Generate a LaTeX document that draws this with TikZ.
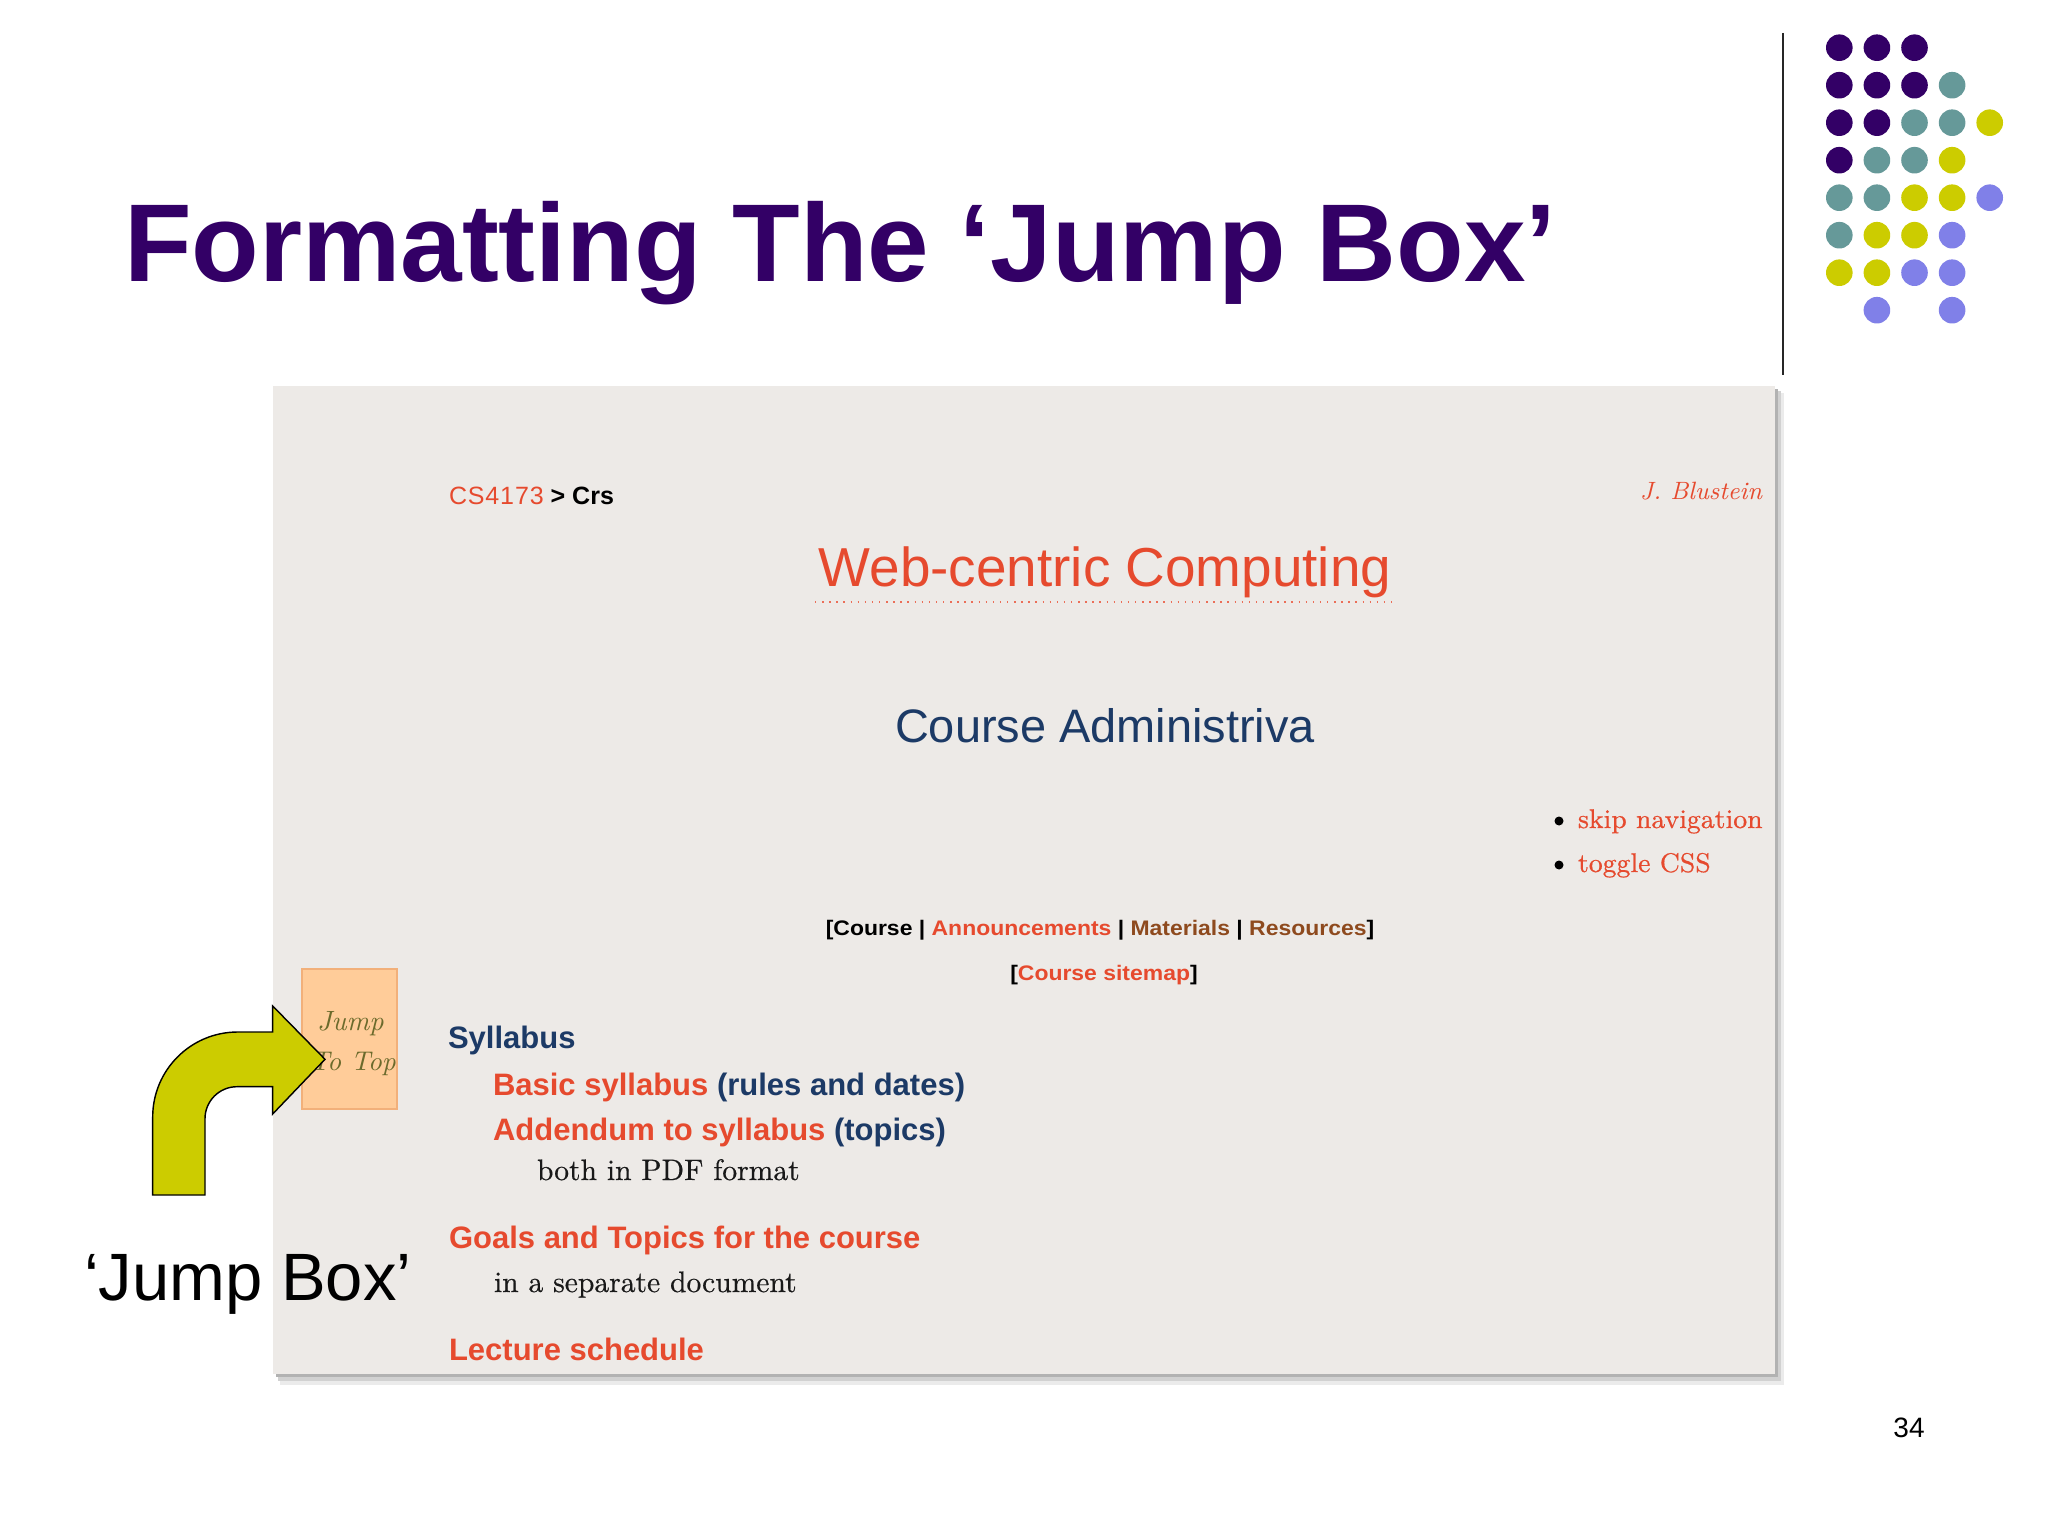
\documentclass[tikz,border=0pt]{standalone}
\usepackage{fontspec}
\newfontfamily\arial{Liberation Sans}
\newfontfamily\navfont[FakeStretch=1.09]{Liberation Sans}
\newfontfamily\slabfont[FakeBold=0.5]{Latin Modern Roman}
\definecolor{titlepurple}{HTML}{330066}
\definecolor{dotP}{HTML}{330066}
\definecolor{dotT}{HTML}{669999}
\definecolor{dotY}{HTML}{CCCC00}
\definecolor{dotL}{HTML}{8080E8}
\definecolor{webred}{HTML}{E64A2E}
\definecolor{navy}{HTML}{1C3A66}
\definecolor{navbrown}{HTML}{8E4A1E}
\definecolor{peach}{HTML}{FFCC99}
\definecolor{peachborder}{HTML}{F2B07A}
\definecolor{olivetext}{HTML}{6B6A2C}
\definecolor{screenbg}{HTML}{EDEAE7}
\definecolor{arrowfill}{HTML}{CCCC00}
\begin{document}
\begin{tikzpicture}[x=0.3515625pt,y=-0.3515625pt,
  txt/.style={inner sep=0pt,outer sep=0pt,anchor=base west},
  ctxt/.style={inner sep=0pt,outer sep=0pt,anchor=base},
  rtxt/.style={inner sep=0pt,outer sep=0pt,anchor=base east},
  arrowstyle/.style={fill=arrowfill,draw=black,line width=0.5pt,line join=miter}]
\useasboundingbox (0,0) rectangle (2048,1536);
\fill[white] (0,0) rectangle (2048,1536);

% title
\node[txt,text=titlepurple] (title) at (124,282) {\arial\bfseries\fontsize{38.9pt}{40pt}\selectfont Formatting The ‘Jump Box’};

% vertical rule
\draw[line width=0.8pt,black!85] (1783,33) -- (1783,375);

% dots
\foreach \c/\r/\col in {0/0/dotP,1/0/dotP,2/0/dotP,
  0/1/dotP,1/1/dotP,2/1/dotP,3/1/dotT,
  0/2/dotP,1/2/dotP,2/2/dotT,3/2/dotT,4/2/dotY,
  0/3/dotP,1/3/dotT,2/3/dotT,3/3/dotY,
  0/4/dotT,1/4/dotT,2/4/dotY,3/4/dotY,4/4/dotL,
  0/5/dotT,1/5/dotY,2/5/dotY,3/5/dotL,
  0/6/dotY,1/6/dotY,2/6/dotL,3/6/dotL,
  1/7/dotL,3/7/dotL}
  \fill[\col] (1839.3+37.6*\c,47.7+37.5*\r) circle[radius=13.3];

% screenshot shadow and body
\fill[black!8] (280,393) rectangle (1784,1385);
\fill[black!18] (278,391) rectangle (1781,1381);
\fill[black!30] (276,389) rectangle (1778,1377);
\fill[screenbg] (273,386) rectangle (1775,1374);

% header
\node[txt] (crumb) at (449,505) {\arial\fontsize{8.8pt}{10pt}\selectfont\textcolor{webred}{C\kern0.3pt S\kern0.3pt 4\kern0.3pt 1\kern0.3pt 7\kern0.3pt 3} \textbf{> Crs}};
\node[rtxt,text=webred] (author) at (1762,500) {\fontsize{8.8pt}{10pt}\selectfont\itshape J. Blustein};

\node[ctxt,text=webred] (webtitle) at (1105,586) {\arial\fontsize{19.3pt}{22pt}\selectfont Web-centric Computing};
\draw[webred!80,line width=0.5pt,dotted] (815,602) -- (1395,602);

\node[ctxt,text=navy] (admin) at (1105,742) {\arial\fontsize{16.5pt}{19pt}\selectfont Course Administriva};

% side links
\fill[black] (1559,821) circle[radius=4.5];
\fill[black] (1559,865) circle[radius=4.5];
\node[txt,text=webred] (skip) at (1578,828) {\slabfont\fontsize{9.5pt}{11pt}\selectfont skip navigation};
\node[txt,text=webred] (toggle) at (1578,872) {\slabfont\fontsize{9.5pt}{11pt}\selectfont toggle CSS};

% navigation
\node[ctxt] (nav) at (1100,935) {\navfont\bfseries\fontsize{7.4pt}{9pt}\selectfont [Course | \textcolor{webred}{Announcements} | \textcolor{navbrown}{Materials} | \textcolor{navbrown}{Resources}]};
\node[ctxt] (sitemap) at (1104,980) {\navfont\bfseries\fontsize{7.4pt}{9pt}\selectfont [\textcolor{webred}{Course sitemap}]};

% jump box
\node[draw=peachborder,fill=peach,line width=0.6pt,inner sep=0pt,outer sep=0pt,anchor=north west,minimum width=33.4pt,minimum height=49.2pt] (jumpbox) at (302,969) {};
\node[txt,text=olivetext] (jump1) at (317,1030) {\fontsize{9.8pt}{11pt}\selectfont\itshape Jump};
\node[txt,text=olivetext] (jump2) at (310,1070) {\fontsize{9.5pt}{11pt}\selectfont\itshape To Top};

% syllabus block
\node[txt,text=navy] (syl) at (448,1048) {\arial\bfseries\fontsize{10.9pt}{13pt}\selectfont Syllabus};
\node[txt] (basic) at (493,1095) {\arial\bfseries\fontsize{10.9pt}{13pt}\selectfont\textcolor{webred}{Basic syllabus} \textcolor{navy}{(rules and dates)}};
\node[txt] (addendum) at (493,1140) {\arial\bfseries\fontsize{10.9pt}{13pt}\selectfont\textcolor{webred}{Addendum to syllabus} \textcolor{navy}{(topics)}};
\node[txt,text=black!90] (pdf) at (537,1180) {\slabfont\fontsize{10.4pt}{12pt}\selectfont both in PDF format};
\node[txt,text=webred] (goals) at (449,1248) {\arial\bfseries\fontsize{10.9pt}{13pt}\selectfont Goals and Topics for the course};
\node[txt,text=black!90] (sep) at (494,1292) {\slabfont\fontsize{10.4pt}{12pt}\selectfont in a separate document};
\node[txt,text=webred] (lecture) at (449,1360) {\arial\bfseries\fontsize{10.9pt}{13pt}\selectfont Lecture schedule};

% bent arrow
\draw[arrowstyle] (152.7,1195) -- (152.7,1117) arc[start angle=180,end angle=270,radius=85]
  -- (272.7,1032) -- (272.7,1006) -- (325,1059.3) -- (272.7,1114) -- (272.7,1086.7)
  -- (237,1086.7) arc[start angle=270,end angle=180,radius=32] -- (205,1195) -- cycle;

% label
\node[txt] (label) at (84,1300) {\arial\fontsize{23.55pt}{28pt}\selectfont ‘Jump Box’};

% page number
\node[ctxt] (pagenum) at (1909,1437) {\arial\fontsize{9.85pt}{12pt}\selectfont 34};
\end{tikzpicture}
\end{document}
